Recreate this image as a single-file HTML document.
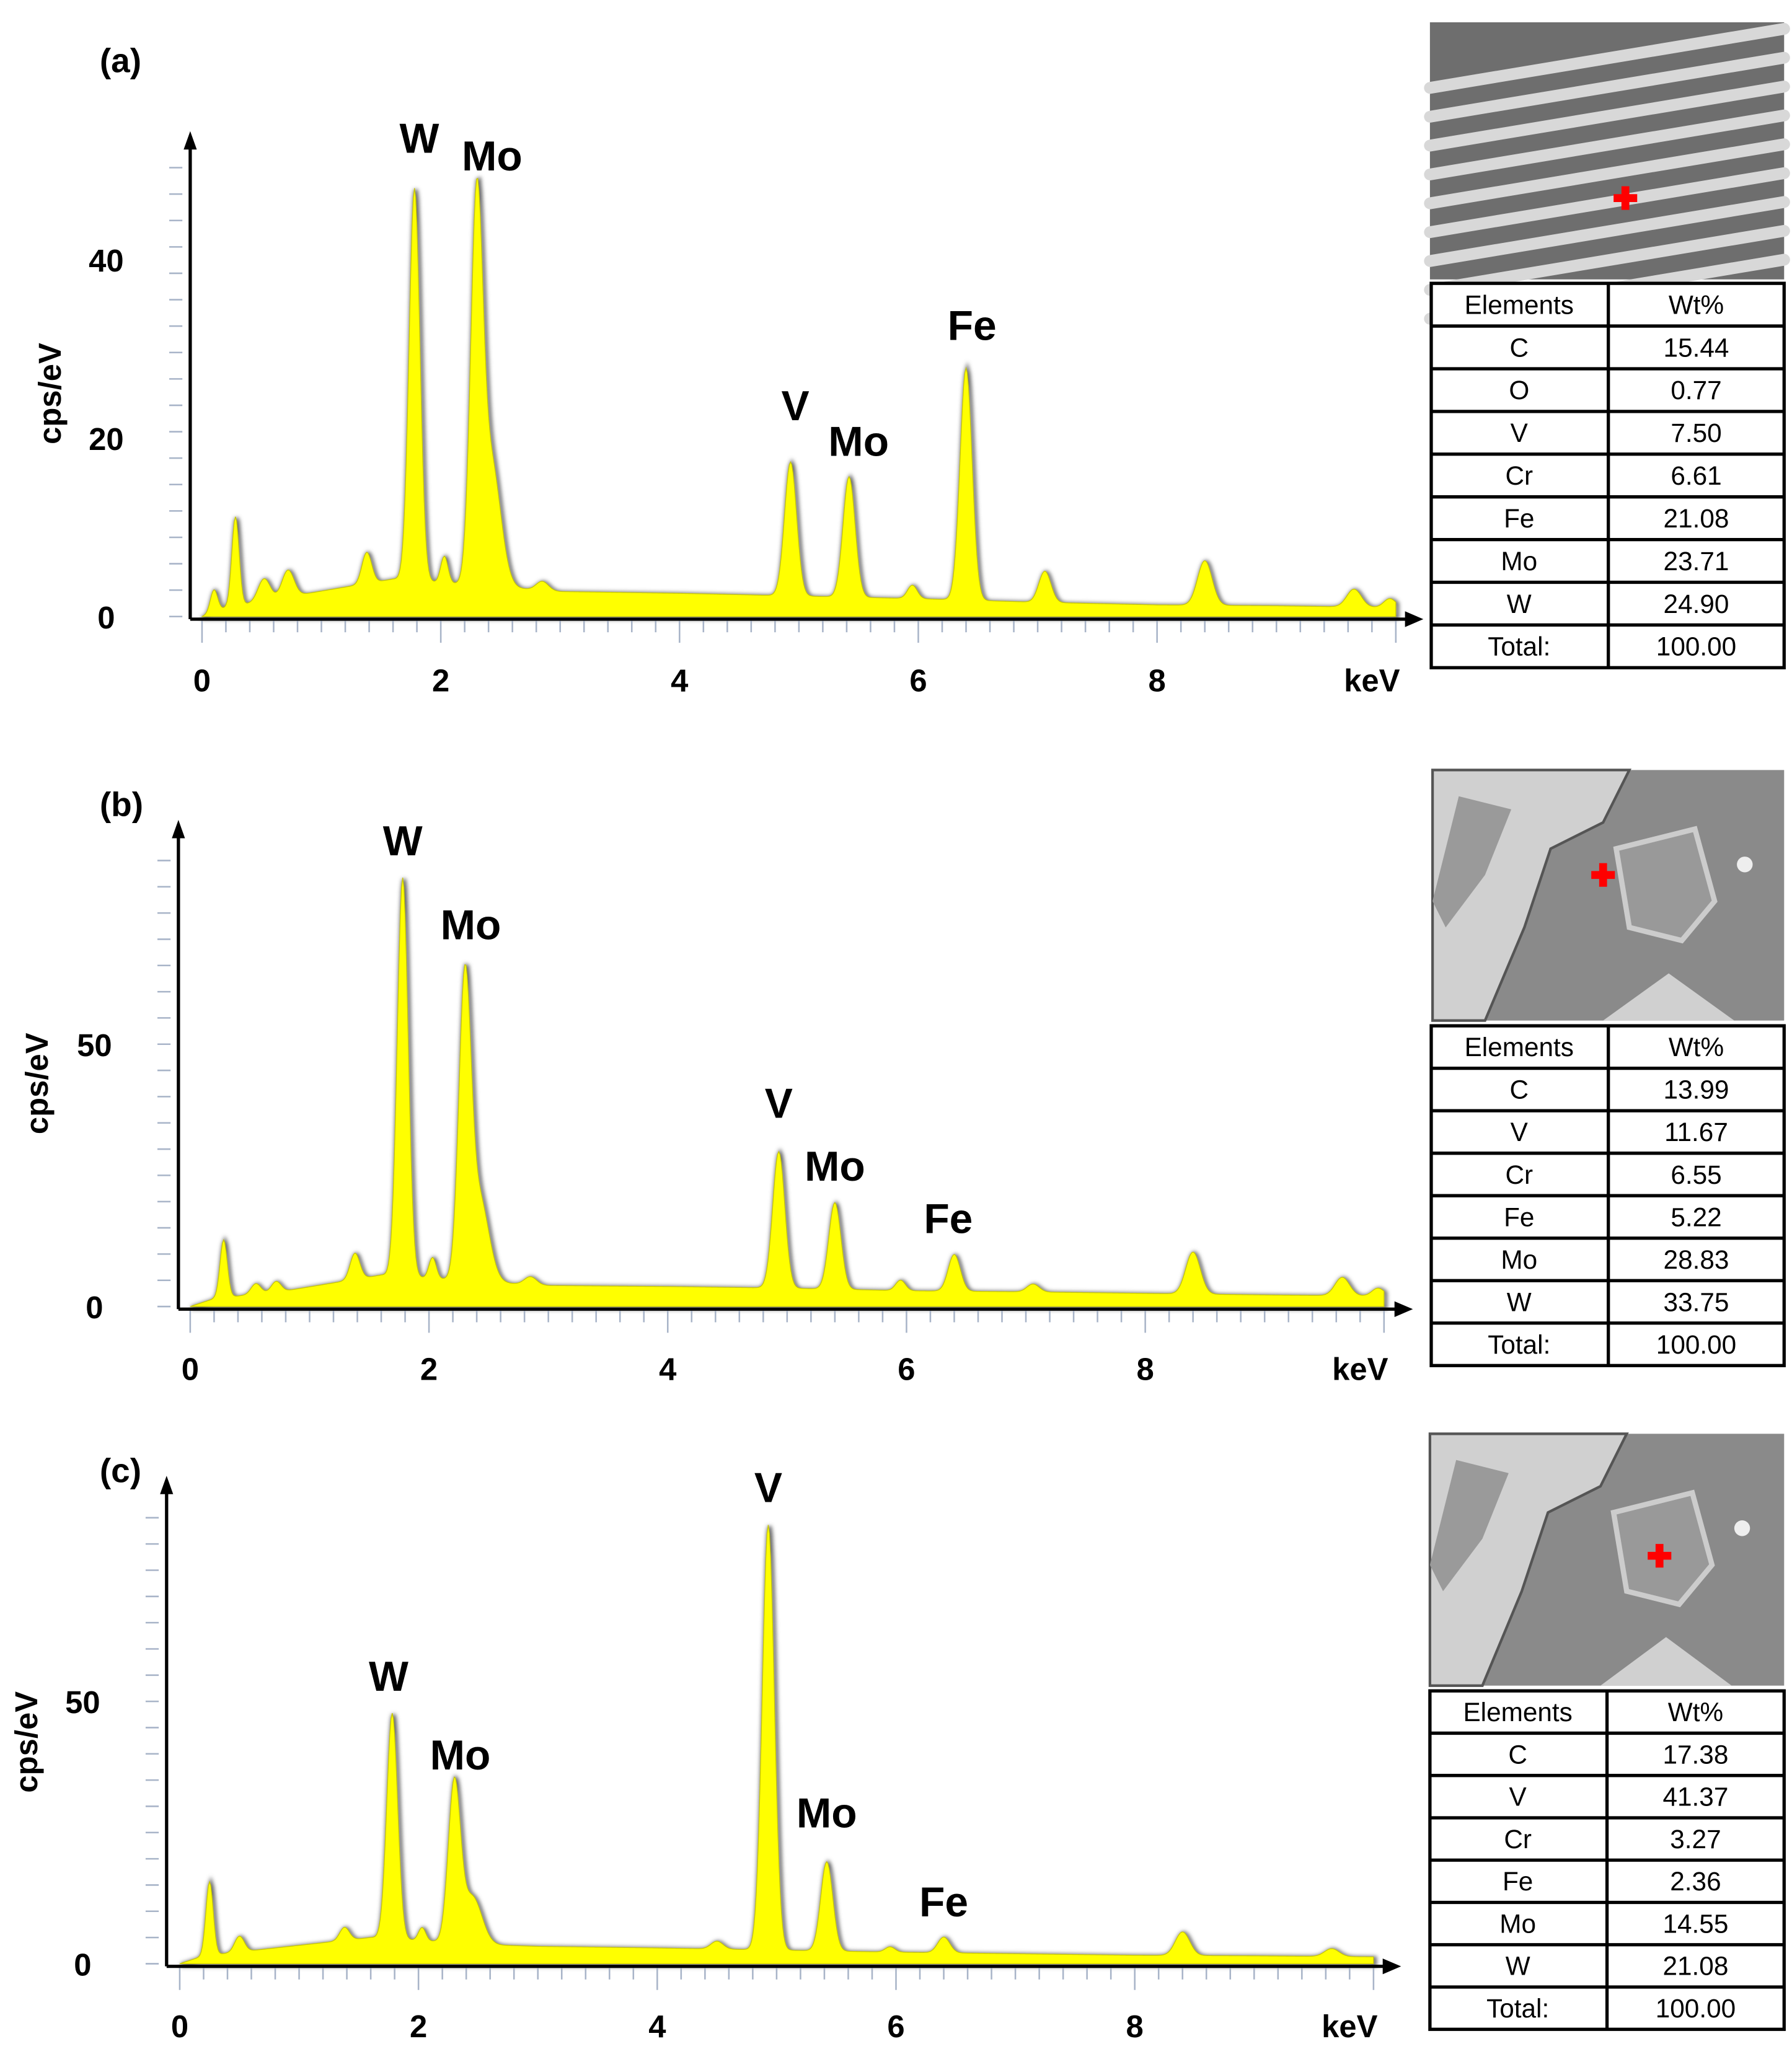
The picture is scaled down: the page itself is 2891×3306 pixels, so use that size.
<!DOCTYPE html>
<html><head><meta charset="utf-8"><style>
html,body{margin:0;padding:0;background:#fff}
svg{display:block}
text{font-family:"Liberation Sans",sans-serif}
</style></head><body>
<svg id="fig" width="2891" height="3306" viewBox="0 0 1366 1562" preserveAspectRatio="none" xmlns="http://www.w3.org/2000/svg">
<defs>
<filter id="sh" x="-5%" y="-5%" width="110%" height="110%"><feGaussianBlur stdDeviation="1.5"/></filter>
</defs>
<g id="root"></g>
</svg>
<script>
// ---------- data ----------
const panelLetters = ["(a)","(b)","(c)"];
const xTickLabels = ["0","2","4","6","8"];
const xTickValues = [0,2,4,6,8];
const yTickValuesA = [0,20,40];
const yTickValuesB = [0,50];
const yTickValuesC = [0,50];
// peaks: energy (keV), height (cps/eV), width (keV)
const peakEA = [0.10,0.28,0.52,0.72,1.38,1.78,2.03,2.30,2.42,2.85,4.93,5.42,5.95,6.40,7.06,8.40,9.65,9.95];
const peakHA = [2.5,10,2.5,3,3.5,44,3,41,14,1,15,13.5,1.5,26,3.5,5,2,1];
const peakWA = [0.03,0.03,0.05,0.05,0.04,0.045,0.03,0.05,0.08,0.05,0.05,0.05,0.04,0.05,0.05,0.06,0.06,0.05];
const bgEA = [0,0.2,0.8,1.2,1.6,2.6,3,4,5,6,7,8,9,10];
const bgYA = [0,1,2.4,3.3,4.2,3.2,2.8,2.6,2.3,2,1.6,1.3,1.2,1];

const peakEB = [0.28,0.55,0.72,1.38,1.78,2.03,2.30,2.42,2.85,4.93,5.40,5.95,6.40,7.06,8.40,9.65,9.95];
const peakHB = [11,2,2,5,76,4,55,16,1.5,26,16.5,2,7,1.5,8,3.5,1.5];
const peakWB = [0.03,0.04,0.04,0.04,0.045,0.03,0.05,0.08,0.05,0.05,0.05,0.04,0.05,0.05,0.06,0.06,0.05];
const bgEB = [0,0.2,0.8,1.2,1.6,2.6,3,4,5,6,7,8,9,10];
const bgYB = [0,1.5,3,4.5,6,4.5,4,3.8,3.5,3,2.8,2.5,2.2,2];

const peakEC = [0.25,0.50,1.38,1.78,2.03,2.30,2.45,4.50,4.93,5.42,5.95,6.40,8.40,9.65];
const peakHC = [14,3,2.5,43,2.5,30,9,1.5,81,17,1,3,4.5,1.5];
const peakWC = [0.03,0.04,0.04,0.045,0.03,0.05,0.08,0.05,0.05,0.05,0.04,0.05,0.06,0.06];
const bgEC = [0,0.2,0.8,1.2,1.6,2.6,3,4,5,6,7,8,9,10];
const bgYC = [0,1.5,3,4,5,3.6,3.3,3,2.6,2.2,1.9,1.6,1.5,1.3];

const labelsA = ["W","Mo","V","Mo","Fe"]; const labelEA=[1.82,2.43,4.97,5.50,6.45]; const labelYA=[52,50,22,18,31];
const labelsB = ["W","Mo","V","Mo","Fe"]; const labelEB=[1.78,2.35,4.93,5.40,6.35]; const labelYB=[86,70,36,24,14];
const labelsC = ["W","Mo","V","Mo","Fe"]; const labelEC=[1.75,2.35,4.93,5.42,6.40]; const labelYC=[52,37,88,26,9];

const tblElemA = ["C","O","V","Cr","Fe","Mo","W","Total:"];
const tblValA = ["15.44","0.77","7.50","6.61","21.08","23.71","24.90","100.00"];
const tblElemB = ["C","V","Cr","Fe","Mo","W","Total:"];
const tblValB = ["13.99","11.67","6.55","5.22","28.83","33.75","100.00"];
const tblElemC = ["C","V","Cr","Fe","Mo","W","Total:"];
const tblValC = ["17.38","41.37","3.27","2.36","14.55","21.08","100.00"];

// ---------- layout ----------
const NS="http://www.w3.org/2000/svg";
const root=document.getElementById('root');
function mk(tag,attrs,parent){const e=document.createElementNS(NS,tag);for(const k in attrs)e.setAttribute(k,attrs[k]);(parent||root).appendChild(e);return e;}

const panels=[
 {letter:0,ax:145,ay0:470,ytop:100,xend:1085,x0:154,pxk:91,pyu:6.8,yt:yTickValuesA,pe:peakEA,ph:peakHA,pw:peakWA,be:bgEA,by:bgYA,lab:labelsA,le:labelEA,ly:labelYA,title:[40,300],letterPos:[76,55],xlabY:527,
  img:[1090,17,270,196],cross:[1239,151],imgType:0,tbl:[1091,216,269,293],te:tblElemA,tv:tblValA},
 {letter:1,ax:136,ay0:996,ytop:625,xend:1077,x0:145,pxk:91,pyu:4,yt:yTickValuesB,pe:peakEB,ph:peakHB,pw:peakWB,be:bgEB,by:bgYB,lab:labelsB,le:labelEB,ly:labelYB,title:[30,826],letterPos:[76,622],xlabY:1052,
  img:[1092,587,268,191],cross:[1222,667],imgType:1,tbl:[1091,782,269,259],te:tblElemB,tv:tblValB},
 {letter:2,ax:127,ay0:1497,ytop:1125,xend:1068,x0:137,pxk:91,pyu:4,yt:yTickValuesC,pe:peakEC,ph:peakHC,pw:peakWC,be:bgEC,by:bgYC,lab:labelsC,le:labelEC,ly:labelYC,title:[22,1328],letterPos:[76,1130],xlabY:1553,
  img:[1090,1093,270,192],cross:[1265,1186],imgType:2,tbl:[1090,1289,270,258],te:tblElemC,tv:tblValC}
];

function interp(xs,ys,x){for(let i=0;i<xs.length-1;i++){if(x<=xs[i+1]){const t=(x-xs[i])/(xs[i+1]-xs[i]);return ys[i]+t*(ys[i+1]-ys[i]);}}return ys[ys.length-1];}

panels.forEach((p,pi)=>{
 const g=mk('g',{});
 
 
 const X=e=>p.x0+e*p.pxk, Y=v=>p.ay0-v*p.pyu;
 let d='M'+X(0)+','+Y(0);
 for(let e=0;e<=10.0;e+=0.01){let v=interp(p.be,p.by,e);for(let k=0;k<p.pe.length;k++){const z=(e-p.pe[k])/p.pw[k];v+=p.ph[k]*Math.exp(-0.5*z*z);}d+=' L'+X(e).toFixed(2)+','+Y(v).toFixed(2);}
 d+=' L'+X(10)+','+Y(0)+' Z';
 const shadow=mk('path',{d:d,fill:'none',stroke:'#666','stroke-width':3,filter:'url(#sh)',transform:'translate(1,1)'},g);
 
 const sp=mk('path',{d:d,fill:'#ffff00',stroke:'#c8c800','stroke-width':0.6},g);
 
 for(let e=0;e<=10.0;e+=0.2){const t=mk('line',{x1:X(e),x2:X(e),y1:p.ay0+3,y2:p.ay0+(Math.abs(e/2-Math.round(e/2))<0.01?20:12),stroke:'#a8b4c8','stroke-width':1.2},g);}
 for(let yy=p.ay0;yy>p.ytop+20;yy-=p.pyu*(pi==0?3.7/1:5)*(pi==0?0.8:1)){const t=mk('line',{x1:p.ax-16,x2:p.ax-6,y1:yy,y2:yy,stroke:'#a8b4c8','stroke-width':1.2},g);}
 const xa=mk('line',{x1:p.ax,y1:p.ay0+2,x2:p.xend-8,y2:p.ay0+2,stroke:'#000','stroke-width':2.5},g);
 const xr=mk('polygon',{points:`${p.xend},${p.ay0+2} ${p.xend-14},${p.ay0-4} ${p.xend-14},${p.ay0+8}`,fill:'#000'},g);
 const ya=mk('line',{x1:p.ax,y1:p.ay0+2,x2:p.ax,y2:p.ytop+8,stroke:'#000','stroke-width':2.5},g);
 const yr=mk('polygon',{points:`${p.ax},${p.ytop} ${p.ax-5},${p.ytop+14} ${p.ax+5},${p.ytop+14}`,fill:'#000'},g);
 xTickValues.forEach((v,i)=>{const t=mk('text',{x:X(v),y:p.xlabY,'text-anchor':'middle','font-size':24,'font-weight':'bold'},g);t.textContent=xTickLabels[i];});
 const kv=mk('text',{x:X(9.8),y:p.xlabY,'text-anchor':'middle','font-size':24,'font-weight':'bold'},g);kv.textContent='keV';
 p.yt.forEach(v=>{const t=mk('text',{x:p.ax-64,y:Y(v)+9,'text-anchor':'middle','font-size':24,'font-weight':'bold'},g);t.textContent=String(v);});
 const yt=mk('text',{x:p.title[0],y:p.title[1],'text-anchor':'middle','font-size':24,'font-weight':'bold',transform:`rotate(-90 ${p.title[0]} ${p.title[1]})`,'dominant-baseline':'middle'},g);yt.textContent='cps/eV';
 const pl=mk('text',{x:p.letterPos[0],y:p.letterPos[1],'font-size':26,'font-weight':'bold','font-family':'Liberation Serif, serif'},g);pl.textContent=panelLetters[p.letter];
 p.lab.forEach((s,i)=>{const t=mk('text',{x:X(p.le[i]),y:Y(p.ly[i]),'text-anchor':'middle','font-size':32,'font-weight':'bold'},g);t.textContent=s;});
 const [ix,iy,iw,ih]=p.img;
 const ig=mk('g',{},g);
 mk('rect',{x:ix,y:iy,width:iw,height:ih,fill:p.imgType==0?'#6e6e6e':'#8a8a8a'},ig);
 if(p.imgType==0){
  for(let k=0;k<9;k++){mk('line',{x1:ix,y1:iy+20+k*22+30,x2:ix+iw,y2:iy+k*22+5,stroke:'#d8d8d8','stroke-width':9,'stroke-linecap':'round'},ig);}
 } else {
  mk('path',{d:`M${ix},${iy} L${ix+150},${iy} L${ix+130},${iy+40} L${ix+90},${iy+60} L${ix+70},${iy+120} L${ix+40},${iy+ih} L${ix},${iy+ih} Z`,fill:'#d0d0d0',stroke:'#555','stroke-width':2},ig);
  mk('path',{d:`M${ix+20},${iy+20} L${ix+60},${iy+30} L${ix+40},${iy+80} L${ix+10},${iy+120} L${ix},${iy+100} Z`,fill:'#9a9a9a'},ig);
  mk('path',{d:`M${ix+140},${iy+60} L${ix+200},${iy+45} L${ix+215},${iy+100} L${ix+190},${iy+130} L${ix+150},${iy+120} Z`,fill:'#999',stroke:'#ccc','stroke-width':4},ig);
  mk('path',{d:`M${ix+130},${iy+ih} L${ix+180},${iy+155} L${ix+230},${iy+ih} Z`,fill:'#d0d0d0'},ig);
  mk('circle',{cx:ix+238,cy:iy+72,r:6,fill:'#eee'},ig);
 }
 const cr=mk('path',{d:`M${p.cross[0]-9},${p.cross[1]-3} h6 v-6 h6 v6 h6 v6 h-6 v6 h-6 v-6 h-6 Z`,fill:'#ff0000'},g);
 const [tx,ty,tw,th]=p.tbl;const rows=p.te.length+1;const rh=th/rows;
 const tg=mk('g',{},g);
 mk('rect',{x:tx,y:ty,width:tw,height:th,fill:'#fff',stroke:'#000','stroke-width':2.5},tg);
 mk('line',{x1:tx+135,y1:ty,x2:tx+135,y2:ty+th,stroke:'#000','stroke-width':2.5},tg);
 for(let r=1;r<rows;r++)mk('line',{x1:tx,y1:ty+r*rh,x2:tx+tw,y2:ty+r*rh,stroke:'#000','stroke-width':2.5},tg);
 const cells=[["Elements","Wt%"]].concat(p.te.map((e,i)=>[e,p.tv[i]]));
 cells.forEach((c,r)=>{
  const a=mk('text',{x:tx+67,y:ty+r*rh+rh/2+7,'text-anchor':'middle','font-size':20},tg);a.textContent=c[0];
  const b=mk('text',{x:tx+135+(tw-135)/2,y:ty+r*rh+rh/2+7,'text-anchor':'middle','font-size':20},tg);b.textContent=c[1];
 });
});
</script>
</body></html>
